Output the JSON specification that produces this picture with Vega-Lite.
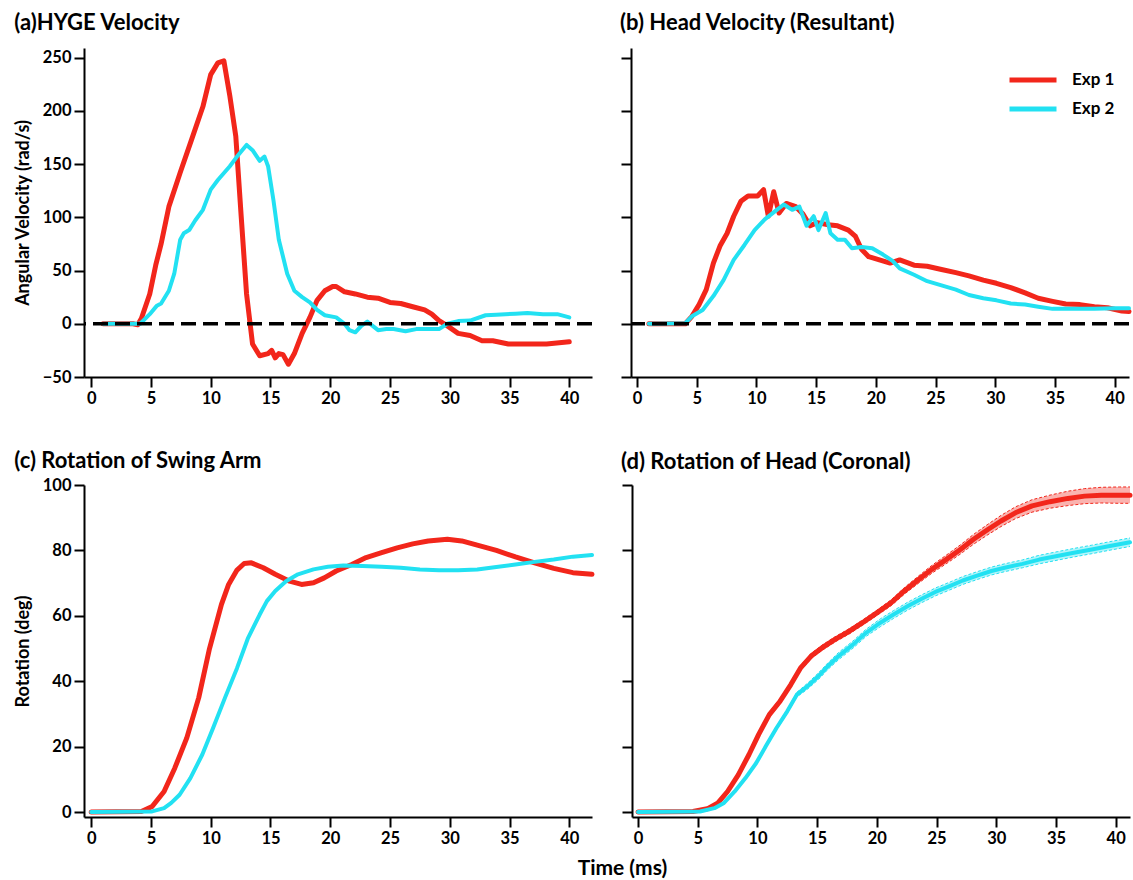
{
  "$schema": "https://vega.github.io/schema/vega-lite/v6.json",
  "padding": {"left": 14, "top": 12, "right": 0, "bottom": 0},
  "background": "white",
  "title": {"text": "Time (ms)", "orient": "bottom", "anchor": "middle", "frame": "bounds", "dx": 49, "offset": 11, "fontSize": 21, "fontWeight": "bold", "font": "Lato", "color": "black"},
  "datasets": {
    "a": [
      {"e": "Exp 1", "t": 1, "v": 0}, {"e": "Exp 1", "t": 3.5, "v": 0}, {"e": "Exp 1", "t": 3.9, "v": -1}, {"e": "Exp 1", "t": 4.2, "v": 5}, {"e": "Exp 1", "t": 4.9, "v": 28}, {"e": "Exp 1", "t": 5.4, "v": 55}, {"e": "Exp 1", "t": 5.85, "v": 75}, {"e": "Exp 1", "t": 6.5, "v": 110}, {"e": "Exp 1", "t": 7.45, "v": 142}, {"e": "Exp 1", "t": 8.4, "v": 173}, {"e": "Exp 1", "t": 9.35, "v": 204}, {"e": "Exp 1", "t": 10.0, "v": 234}, {"e": "Exp 1", "t": 10.6, "v": 245}, {"e": "Exp 1", "t": 11.1, "v": 247}, {"e": "Exp 1", "t": 11.6, "v": 214}, {"e": "Exp 1", "t": 12.1, "v": 176}, {"e": "Exp 1", "t": 12.55, "v": 101}, {"e": "Exp 1", "t": 13.0, "v": 28}, {"e": "Exp 1", "t": 13.5, "v": -19}, {"e": "Exp 1", "t": 14.1, "v": -30}, {"e": "Exp 1", "t": 14.8, "v": -28}, {"e": "Exp 1", "t": 15.1, "v": -25}, {"e": "Exp 1", "t": 15.4, "v": -32}, {"e": "Exp 1", "t": 15.7, "v": -28}, {"e": "Exp 1", "t": 16.05, "v": -29}, {"e": "Exp 1", "t": 16.5, "v": -38}, {"e": "Exp 1", "t": 17.0, "v": -28}, {"e": "Exp 1", "t": 17.65, "v": -9}, {"e": "Exp 1", "t": 18.3, "v": 6}, {"e": "Exp 1", "t": 18.9, "v": 22}, {"e": "Exp 1", "t": 19.55, "v": 31}, {"e": "Exp 1", "t": 20.2, "v": 35}, {"e": "Exp 1", "t": 20.5, "v": 35}, {"e": "Exp 1", "t": 21.2, "v": 30}, {"e": "Exp 1", "t": 22.1, "v": 28}, {"e": "Exp 1", "t": 23.1, "v": 25}, {"e": "Exp 1", "t": 24.0, "v": 24}, {"e": "Exp 1", "t": 25.0, "v": 20}, {"e": "Exp 1", "t": 25.9, "v": 19}, {"e": "Exp 1", "t": 26.9, "v": 16}, {"e": "Exp 1", "t": 27.9, "v": 13}, {"e": "Exp 1", "t": 28.5, "v": 9}, {"e": "Exp 1", "t": 29.1, "v": 3}, {"e": "Exp 1", "t": 29.8, "v": -2}, {"e": "Exp 1", "t": 30.7, "v": -9}, {"e": "Exp 1", "t": 31.7, "v": -11}, {"e": "Exp 1", "t": 32.7, "v": -16}, {"e": "Exp 1", "t": 33.6, "v": -16}, {"e": "Exp 1", "t": 34.9, "v": -19}, {"e": "Exp 1", "t": 36.5, "v": -19}, {"e": "Exp 1", "t": 38.1, "v": -19}, {"e": "Exp 1", "t": 40, "v": -17},
      {"e": "Exp 2", "t": 1, "v": 0}, {"e": "Exp 2", "t": 4.1, "v": 0}, {"e": "Exp 2", "t": 4.9, "v": 9}, {"e": "Exp 2", "t": 5.5, "v": 17}, {"e": "Exp 2", "t": 5.85, "v": 19}, {"e": "Exp 2", "t": 6.5, "v": 31}, {"e": "Exp 2", "t": 6.95, "v": 47}, {"e": "Exp 2", "t": 7.45, "v": 79}, {"e": "Exp 2", "t": 7.75, "v": 85}, {"e": "Exp 2", "t": 8.2, "v": 88}, {"e": "Exp 2", "t": 8.7, "v": 97}, {"e": "Exp 2", "t": 9.35, "v": 107}, {"e": "Exp 2", "t": 10.0, "v": 126}, {"e": "Exp 2", "t": 10.6, "v": 135}, {"e": "Exp 2", "t": 11.6, "v": 148}, {"e": "Exp 2", "t": 12.2, "v": 157}, {"e": "Exp 2", "t": 13.0, "v": 168}, {"e": "Exp 2", "t": 13.5, "v": 163}, {"e": "Exp 2", "t": 14.1, "v": 153}, {"e": "Exp 2", "t": 14.5, "v": 157}, {"e": "Exp 2", "t": 14.8, "v": 148}, {"e": "Exp 2", "t": 15.25, "v": 116}, {"e": "Exp 2", "t": 15.7, "v": 79}, {"e": "Exp 2", "t": 16.4, "v": 47}, {"e": "Exp 2", "t": 17.0, "v": 31}, {"e": "Exp 2", "t": 17.65, "v": 25}, {"e": "Exp 2", "t": 18.3, "v": 20}, {"e": "Exp 2", "t": 18.9, "v": 13}, {"e": "Exp 2", "t": 19.55, "v": 8}, {"e": "Exp 2", "t": 20.5, "v": 6}, {"e": "Exp 2", "t": 21.2, "v": 0}, {"e": "Exp 2", "t": 21.6, "v": -6}, {"e": "Exp 2", "t": 22.1, "v": -8}, {"e": "Exp 2", "t": 22.6, "v": -2}, {"e": "Exp 2", "t": 23.1, "v": 2}, {"e": "Exp 2", "t": 23.55, "v": -2}, {"e": "Exp 2", "t": 24.0, "v": -6}, {"e": "Exp 2", "t": 24.7, "v": -5}, {"e": "Exp 2", "t": 25.3, "v": -5}, {"e": "Exp 2", "t": 26.3, "v": -7}, {"e": "Exp 2", "t": 27.2, "v": -5}, {"e": "Exp 2", "t": 28.2, "v": -5}, {"e": "Exp 2", "t": 29.1, "v": -5}, {"e": "Exp 2", "t": 29.8, "v": 0}, {"e": "Exp 2", "t": 30.7, "v": 2.5}, {"e": "Exp 2", "t": 31.7, "v": 3}, {"e": "Exp 2", "t": 33.0, "v": 8}, {"e": "Exp 2", "t": 33.9, "v": 8.5}, {"e": "Exp 2", "t": 35.5, "v": 9.5}, {"e": "Exp 2", "t": 36.5, "v": 10}, {"e": "Exp 2", "t": 37.8, "v": 9}, {"e": "Exp 2", "t": 39, "v": 9}, {"e": "Exp 2", "t": 40, "v": 6}
    ],
    "b": [
      {"e": "Exp 1", "t": 1, "v": 0}, {"e": "Exp 1", "t": 4.05, "v": 0}, {"e": "Exp 1", "t": 4.6, "v": 7}, {"e": "Exp 1", "t": 5.2, "v": 18}, {"e": "Exp 1", "t": 5.8, "v": 32}, {"e": "Exp 1", "t": 6.4, "v": 57}, {"e": "Exp 1", "t": 6.95, "v": 73}, {"e": "Exp 1", "t": 7.55, "v": 85}, {"e": "Exp 1", "t": 8.1, "v": 101}, {"e": "Exp 1", "t": 8.7, "v": 115}, {"e": "Exp 1", "t": 9.3, "v": 120}, {"e": "Exp 1", "t": 10.1, "v": 120}, {"e": "Exp 1", "t": 10.6, "v": 126}, {"e": "Exp 1", "t": 11.0, "v": 101}, {"e": "Exp 1", "t": 11.45, "v": 124}, {"e": "Exp 1", "t": 11.9, "v": 104}, {"e": "Exp 1", "t": 12.5, "v": 113}, {"e": "Exp 1", "t": 13.3, "v": 110}, {"e": "Exp 1", "t": 13.9, "v": 103}, {"e": "Exp 1", "t": 14.5, "v": 92}, {"e": "Exp 1", "t": 15.1, "v": 95}, {"e": "Exp 1", "t": 16.0, "v": 93}, {"e": "Exp 1", "t": 16.8, "v": 92}, {"e": "Exp 1", "t": 17.7, "v": 88}, {"e": "Exp 1", "t": 18.3, "v": 82}, {"e": "Exp 1", "t": 18.8, "v": 70}, {"e": "Exp 1", "t": 19.4, "v": 63}, {"e": "Exp 1", "t": 20.3, "v": 60}, {"e": "Exp 1", "t": 21.2, "v": 57}, {"e": "Exp 1", "t": 22.0, "v": 60}, {"e": "Exp 1", "t": 23.2, "v": 55}, {"e": "Exp 1", "t": 24.3, "v": 54}, {"e": "Exp 1", "t": 25.5, "v": 51}, {"e": "Exp 1", "t": 26.7, "v": 48}, {"e": "Exp 1", "t": 27.8, "v": 45}, {"e": "Exp 1", "t": 29.0, "v": 41}, {"e": "Exp 1", "t": 30.1, "v": 38}, {"e": "Exp 1", "t": 31.3, "v": 34}, {"e": "Exp 1", "t": 32.5, "v": 29}, {"e": "Exp 1", "t": 33.6, "v": 24}, {"e": "Exp 1", "t": 34.8, "v": 21}, {"e": "Exp 1", "t": 35.9, "v": 18.5}, {"e": "Exp 1", "t": 37.1, "v": 18}, {"e": "Exp 1", "t": 38.3, "v": 16}, {"e": "Exp 1", "t": 39.4, "v": 15}, {"e": "Exp 1", "t": 40.6, "v": 12}, {"e": "Exp 1", "t": 41.2, "v": 11.5},
      {"e": "Exp 2", "t": 1, "v": 0}, {"e": "Exp 2", "t": 4.05, "v": 0.5}, {"e": "Exp 2", "t": 4.6, "v": 7}, {"e": "Exp 2", "t": 5.5, "v": 13}, {"e": "Exp 2", "t": 6.4, "v": 26}, {"e": "Exp 2", "t": 7.25, "v": 41}, {"e": "Exp 2", "t": 8.1, "v": 60}, {"e": "Exp 2", "t": 9.0, "v": 74}, {"e": "Exp 2", "t": 9.85, "v": 88}, {"e": "Exp 2", "t": 10.7, "v": 98}, {"e": "Exp 2", "t": 11.6, "v": 106}, {"e": "Exp 2", "t": 12.3, "v": 112}, {"e": "Exp 2", "t": 13.0, "v": 107}, {"e": "Exp 2", "t": 13.6, "v": 110}, {"e": "Exp 2", "t": 14.2, "v": 92}, {"e": "Exp 2", "t": 14.8, "v": 101}, {"e": "Exp 2", "t": 15.2, "v": 88}, {"e": "Exp 2", "t": 15.8, "v": 104}, {"e": "Exp 2", "t": 16.2, "v": 85}, {"e": "Exp 2", "t": 16.8, "v": 79}, {"e": "Exp 2", "t": 17.4, "v": 79}, {"e": "Exp 2", "t": 18.0, "v": 71}, {"e": "Exp 2", "t": 18.8, "v": 72}, {"e": "Exp 2", "t": 19.7, "v": 71}, {"e": "Exp 2", "t": 20.6, "v": 65}, {"e": "Exp 2", "t": 21.4, "v": 59}, {"e": "Exp 2", "t": 22.0, "v": 52}, {"e": "Exp 2", "t": 23.2, "v": 46}, {"e": "Exp 2", "t": 24.3, "v": 40}, {"e": "Exp 2", "t": 25.5, "v": 36}, {"e": "Exp 2", "t": 26.7, "v": 32}, {"e": "Exp 2", "t": 27.8, "v": 27}, {"e": "Exp 2", "t": 29.0, "v": 24}, {"e": "Exp 2", "t": 30.1, "v": 22}, {"e": "Exp 2", "t": 31.3, "v": 19}, {"e": "Exp 2", "t": 32.5, "v": 18}, {"e": "Exp 2", "t": 33.6, "v": 16}, {"e": "Exp 2", "t": 34.8, "v": 14}, {"e": "Exp 2", "t": 36.5, "v": 14}, {"e": "Exp 2", "t": 38.3, "v": 14}, {"e": "Exp 2", "t": 40, "v": 14.5}, {"e": "Exp 2", "t": 41.2, "v": 14.5}
    ],
    "c": [
      {"e": "Exp 1", "t": 0, "v": 0}, {"e": "Exp 1", "t": 4.2, "v": 0.2}, {"e": "Exp 1", "t": 5.1, "v": 1.7}, {"e": "Exp 1", "t": 6.1, "v": 6.3}, {"e": "Exp 1", "t": 7.0, "v": 13.5}, {"e": "Exp 1", "t": 8.0, "v": 22.7}, {"e": "Exp 1", "t": 9.0, "v": 35}, {"e": "Exp 1", "t": 9.9, "v": 50}, {"e": "Exp 1", "t": 10.9, "v": 63.5}, {"e": "Exp 1", "t": 11.5, "v": 69.6}, {"e": "Exp 1", "t": 12.2, "v": 74}, {"e": "Exp 1", "t": 12.8, "v": 76}, {"e": "Exp 1", "t": 13.4, "v": 76.2}, {"e": "Exp 1", "t": 14.4, "v": 74.7}, {"e": "Exp 1", "t": 15.4, "v": 72.7}, {"e": "Exp 1", "t": 16.6, "v": 70.6}, {"e": "Exp 1", "t": 17.6, "v": 69.6}, {"e": "Exp 1", "t": 18.6, "v": 70.1}, {"e": "Exp 1", "t": 19.5, "v": 71.6}, {"e": "Exp 1", "t": 20.5, "v": 73.7}, {"e": "Exp 1", "t": 21.8, "v": 75.7}, {"e": "Exp 1", "t": 23.0, "v": 77.8}, {"e": "Exp 1", "t": 24.3, "v": 79.3}, {"e": "Exp 1", "t": 25.6, "v": 80.8}, {"e": "Exp 1", "t": 26.9, "v": 82}, {"e": "Exp 1", "t": 28.2, "v": 82.9}, {"e": "Exp 1", "t": 29.8, "v": 83.4}, {"e": "Exp 1", "t": 31.0, "v": 82.9}, {"e": "Exp 1", "t": 32.3, "v": 81.6}, {"e": "Exp 1", "t": 33.9, "v": 80}, {"e": "Exp 1", "t": 35.5, "v": 78}, {"e": "Exp 1", "t": 37.1, "v": 76.2}, {"e": "Exp 1", "t": 38.7, "v": 74.5}, {"e": "Exp 1", "t": 40.3, "v": 73.2}, {"e": "Exp 1", "t": 41.9, "v": 72.7},
      {"e": "Exp 2", "t": 0, "v": 0}, {"e": "Exp 2", "t": 5.1, "v": 0.2}, {"e": "Exp 2", "t": 6.1, "v": 1.2}, {"e": "Exp 2", "t": 6.7, "v": 2.8}, {"e": "Exp 2", "t": 7.4, "v": 5.3}, {"e": "Exp 2", "t": 8.3, "v": 10.4}, {"e": "Exp 2", "t": 9.3, "v": 17.6}, {"e": "Exp 2", "t": 10.2, "v": 25.7}, {"e": "Exp 2", "t": 11.2, "v": 35}, {"e": "Exp 2", "t": 12.2, "v": 44}, {"e": "Exp 2", "t": 13.1, "v": 53}, {"e": "Exp 2", "t": 14.1, "v": 60.4}, {"e": "Exp 2", "t": 14.7, "v": 64.5}, {"e": "Exp 2", "t": 15.4, "v": 67.6}, {"e": "Exp 2", "t": 16.3, "v": 70.6}, {"e": "Exp 2", "t": 17.3, "v": 72.7}, {"e": "Exp 2", "t": 18.6, "v": 74.2}, {"e": "Exp 2", "t": 19.8, "v": 75}, {"e": "Exp 2", "t": 21.1, "v": 75.4}, {"e": "Exp 2", "t": 22.7, "v": 75.2}, {"e": "Exp 2", "t": 24.3, "v": 75}, {"e": "Exp 2", "t": 25.9, "v": 74.7}, {"e": "Exp 2", "t": 27.5, "v": 74.2}, {"e": "Exp 2", "t": 29.1, "v": 73.9}, {"e": "Exp 2", "t": 30.7, "v": 73.9}, {"e": "Exp 2", "t": 32.3, "v": 74.2}, {"e": "Exp 2", "t": 33.9, "v": 74.9}, {"e": "Exp 2", "t": 35.5, "v": 75.7}, {"e": "Exp 2", "t": 37.1, "v": 76.5}, {"e": "Exp 2", "t": 38.7, "v": 77.2}, {"e": "Exp 2", "t": 40.3, "v": 78.1}, {"e": "Exp 2", "t": 41.9, "v": 78.6}
    ],
    "d": [
      {"e": "Exp 1", "t": 0, "v": 0, "lo": -0.3, "hi": 0.3}, {"e": "Exp 1", "t": 4.6, "v": 0.2, "lo": -0.1, "hi": 0.5}, {"e": "Exp 1", "t": 5.8, "v": 1, "lo": 0.7, "hi": 1.3}, {"e": "Exp 1", "t": 6.7, "v": 2.8, "lo": 2.4, "hi": 3.2}, {"e": "Exp 1", "t": 7.5, "v": 6.3, "lo": 5.8, "hi": 6.8}, {"e": "Exp 1", "t": 8.4, "v": 11.4, "lo": 10.8, "hi": 12.0}, {"e": "Exp 1", "t": 9.3, "v": 17.6, "lo": 16.9, "hi": 18.3}, {"e": "Exp 1", "t": 10.1, "v": 23.7, "lo": 22.9, "hi": 24.5}, {"e": "Exp 1", "t": 11.0, "v": 29.8, "lo": 29.0, "hi": 30.6}, {"e": "Exp 1", "t": 11.9, "v": 33.9, "lo": 33.1, "hi": 34.7}, {"e": "Exp 1", "t": 12.8, "v": 39, "lo": 38.2, "hi": 39.8}, {"e": "Exp 1", "t": 13.6, "v": 44, "lo": 43.2, "hi": 44.8}, {"e": "Exp 1", "t": 14.5, "v": 47.7, "lo": 46.9, "hi": 48.5}, {"e": "Exp 1", "t": 15.4, "v": 50.2, "lo": 49.4, "hi": 51.0}, {"e": "Exp 1", "t": 16.5, "v": 52.8, "lo": 52.0, "hi": 53.6}, {"e": "Exp 1", "t": 17.7, "v": 55.3, "lo": 54.5, "hi": 56.1}, {"e": "Exp 1", "t": 18.8, "v": 57.9, "lo": 57.1, "hi": 58.7}, {"e": "Exp 1", "t": 20.0, "v": 60.9, "lo": 60.1, "hi": 61.7}, {"e": "Exp 1", "t": 21.2, "v": 64, "lo": 63.1, "hi": 64.9}, {"e": "Exp 1", "t": 22.3, "v": 67.6, "lo": 66.6, "hi": 68.6}, {"e": "Exp 1", "t": 23.5, "v": 71.1, "lo": 70.0, "hi": 72.2}, {"e": "Exp 1", "t": 24.6, "v": 74.2, "lo": 73.0, "hi": 75.4}, {"e": "Exp 1", "t": 25.8, "v": 77.2, "lo": 75.9, "hi": 78.5}, {"e": "Exp 1", "t": 27.0, "v": 80.3, "lo": 78.9, "hi": 81.7}, {"e": "Exp 1", "t": 28.1, "v": 83.4, "lo": 81.9, "hi": 84.9}, {"e": "Exp 1", "t": 29.3, "v": 86.4, "lo": 84.8, "hi": 88.0}, {"e": "Exp 1", "t": 30.4, "v": 89, "lo": 87.3, "hi": 90.7}, {"e": "Exp 1", "t": 31.6, "v": 91.5, "lo": 89.7, "hi": 93.3}, {"e": "Exp 1", "t": 33.0, "v": 93.6, "lo": 91.7, "hi": 95.5}, {"e": "Exp 1", "t": 34.5, "v": 94.9, "lo": 92.9, "hi": 96.9}, {"e": "Exp 1", "t": 36.0, "v": 95.9, "lo": 93.7, "hi": 98.1}, {"e": "Exp 1", "t": 37.4, "v": 96.6, "lo": 94.3, "hi": 98.9}, {"e": "Exp 1", "t": 38.8, "v": 96.9, "lo": 94.5, "hi": 99.3}, {"e": "Exp 1", "t": 40.3, "v": 96.9, "lo": 94.4, "hi": 99.4}, {"e": "Exp 1", "t": 41.2, "v": 96.9, "lo": 94.4, "hi": 99.4},
      {"e": "Exp 2", "t": 0, "v": 0, "lo": -0.2, "hi": 0.2}, {"e": "Exp 2", "t": 5.2, "v": 0.2, "lo": 0.0, "hi": 0.4}, {"e": "Exp 2", "t": 6.4, "v": 1.2, "lo": 0.9, "hi": 1.5}, {"e": "Exp 2", "t": 7.2, "v": 2.8, "lo": 2.5, "hi": 3.1}, {"e": "Exp 2", "t": 8.1, "v": 6.3, "lo": 5.9, "hi": 6.7}, {"e": "Exp 2", "t": 9.0, "v": 10.4, "lo": 10.0, "hi": 10.8}, {"e": "Exp 2", "t": 9.9, "v": 15, "lo": 14.5, "hi": 15.5}, {"e": "Exp 2", "t": 10.7, "v": 20.1, "lo": 19.6, "hi": 20.6}, {"e": "Exp 2", "t": 11.6, "v": 25.7, "lo": 25.1, "hi": 26.3}, {"e": "Exp 2", "t": 12.5, "v": 30.8, "lo": 30.2, "hi": 31.4}, {"e": "Exp 2", "t": 13.3, "v": 35.9, "lo": 35.2, "hi": 36.6}, {"e": "Exp 2", "t": 14.2, "v": 38.5, "lo": 37.6, "hi": 39.4}, {"e": "Exp 2", "t": 15.1, "v": 41.5, "lo": 40.5, "hi": 42.5}, {"e": "Exp 2", "t": 15.9, "v": 44.6, "lo": 43.6, "hi": 45.6}, {"e": "Exp 2", "t": 16.8, "v": 47.7, "lo": 46.6, "hi": 48.8}, {"e": "Exp 2", "t": 18.0, "v": 51.2, "lo": 50.1, "hi": 52.3}, {"e": "Exp 2", "t": 19.1, "v": 54.8, "lo": 53.7, "hi": 55.9}, {"e": "Exp 2", "t": 20.3, "v": 57.9, "lo": 56.7, "hi": 59.1}, {"e": "Exp 2", "t": 21.4, "v": 60.4, "lo": 59.2, "hi": 61.6}, {"e": "Exp 2", "t": 22.6, "v": 63, "lo": 61.8, "hi": 64.2}, {"e": "Exp 2", "t": 23.8, "v": 65.3, "lo": 64.1, "hi": 66.5}, {"e": "Exp 2", "t": 24.9, "v": 67.3, "lo": 66.1, "hi": 68.5}, {"e": "Exp 2", "t": 26.1, "v": 69.1, "lo": 67.9, "hi": 70.3}, {"e": "Exp 2", "t": 27.2, "v": 70.8, "lo": 69.6, "hi": 72.0}, {"e": "Exp 2", "t": 28.4, "v": 72.3, "lo": 71.1, "hi": 73.5}, {"e": "Exp 2", "t": 29.6, "v": 73.7, "lo": 72.5, "hi": 74.9}, {"e": "Exp 2", "t": 30.7, "v": 74.7, "lo": 73.5, "hi": 75.9}, {"e": "Exp 2", "t": 32.2, "v": 75.9, "lo": 74.7, "hi": 77.1}, {"e": "Exp 2", "t": 33.6, "v": 77.2, "lo": 75.9, "hi": 78.5}, {"e": "Exp 2", "t": 35.1, "v": 78.3, "lo": 77.0, "hi": 79.6}, {"e": "Exp 2", "t": 36.5, "v": 79.3, "lo": 78.0, "hi": 80.6}, {"e": "Exp 2", "t": 38.0, "v": 80.3, "lo": 79.0, "hi": 81.6}, {"e": "Exp 2", "t": 39.4, "v": 81.3, "lo": 80.0, "hi": 82.6}, {"e": "Exp 2", "t": 41.2, "v": 82.5, "lo": 81.2, "hi": 83.8}
    ]
  },
  "resolve": {"legend": {"color": "independent"}, "scale": {"color": "independent"}},
  "spacing": 43,
  "vconcat": [
    {
      "spacing": 26,
      "resolve": {"legend": {"color": "independent"}, "scale": {"color": "independent"}},
      "hconcat": [
        {
          "title": {"text": "(a)HYGE Velocity"},
          "width": 508, "height": 329,
          "data": {"name": "a"},
          "layer": [
            {
              "mark": {"type": "line", "strokeCap": "round", "strokeJoin": "round"},
              "encoding": {
                "x": {"field": "t", "type": "quantitative", "scale": {"domain": [-0.6, 41.9], "nice": false, "zero": false}, "axis": {"values": [0, 5, 10, 15, 20, 25, 30, 35, 40], "title": null}},
                "y": {"field": "v", "type": "quantitative", "scale": {"domain": [-50, 259], "nice": false}, "axis": {"values": [-50, 0, 50, 100, 150, 200, 250], "title": "Angular Velocity (rad/s)"}},
                "color": {"field": "e", "type": "nominal", "scale": {"domain": ["Exp 1", "Exp 2"], "range": ["#F2261B", "#22E1F2"]}, "legend": null},
                "strokeWidth": {"field": "e", "type": "nominal", "scale": {"domain": ["Exp 1", "Exp 2"], "range": [5, 4]}, "legend": null}
              }
            },
            {
              "data": {"values": [{}]},
              "mark": {"type": "rule", "color": "black", "strokeWidth": 3.5, "strokeDash": [15, 7]},
              "encoding": {"y": {"datum": 0}}
            }
          ]
        },
        {
          "title": {"text": "(b) Head Velocity (Resultant)"},
          "width": 498, "height": 329,
          "data": {"name": "b"},
          "layer": [
            {
              "mark": {"type": "line", "strokeCap": "round", "strokeJoin": "round"},
              "encoding": {
                "x": {"field": "t", "type": "quantitative", "scale": {"domain": [-0.5, 41.2], "nice": false, "zero": false}, "axis": {"values": [0, 5, 10, 15, 20, 25, 30, 35, 40], "title": null}},
                "y": {"field": "v", "type": "quantitative", "scale": {"domain": [-50, 259], "nice": false}, "axis": {"values": [-50, 0, 50, 100, 150, 200, 250], "title": null, "labels": false}},
                "color": {"field": "e", "type": "nominal", "scale": {"domain": ["Exp 1", "Exp 2"], "range": ["#F2261B", "#22E1F2"]},
                  "legend": {"orient": "none", "legendX": 376, "legendY": 22, "title": null, "symbolType": "stroke", "symbolSize": 2209, "symbolStrokeWidth": 5, "clipHeight": 20, "rowPadding": 9, "labelFontSize": 17, "labelFont": "Lato", "labelFontWeight": "bold", "labelColor": "black", "labelOffset": 13, "padding": 0}},
                "strokeWidth": {"field": "e", "type": "nominal", "scale": {"domain": ["Exp 1", "Exp 2"], "range": [5, 4]}, "legend": null}
              }
            },
            {
              "data": {"values": [{}]},
              "mark": {"type": "rule", "color": "black", "strokeWidth": 3.5, "strokeDash": [15, 7]},
              "encoding": {"y": {"datum": 0}}
            }
          ]
        }
      ]
    },
    {
      "spacing": 26,
      "resolve": {"legend": {"color": "independent"}, "scale": {"color": "independent"}},
      "hconcat": [
        {
          "title": {"text": "(c) Rotation of Swing Arm", "dy": 9},
          "width": 508, "height": 332,
          "data": {"name": "c"},
          "mark": {"type": "line", "strokeCap": "round", "strokeJoin": "round"},
          "encoding": {
            "x": {"field": "t", "type": "quantitative", "scale": {"domain": [-0.6, 41.9], "nice": false, "zero": false}, "axis": {"values": [0, 5, 10, 15, 20, 25, 30, 35, 40], "title": null}},
            "y": {"field": "v", "type": "quantitative", "scale": {"domain": [-1.5, 100], "nice": false}, "axis": {"values": [0, 20, 40, 60, 80, 100], "title": "Rotation (deg)"}},
            "color": {"field": "e", "type": "nominal", "scale": {"domain": ["Exp 1", "Exp 2"], "range": ["#F2261B", "#22E1F2"]}, "legend": null},
            "strokeWidth": {"field": "e", "type": "nominal", "scale": {"domain": ["Exp 1", "Exp 2"], "range": [5, 4]}, "legend": null}
          }
        },
        {
          "title": {"text": "(d) Rotation of Head (Coronal)", "dy": 3},
          "width": 498, "height": 332,
          "data": {"name": "d"},
          "encoding": {
            "x": {"field": "t", "type": "quantitative", "scale": {"domain": [-0.5, 41.2], "nice": false, "zero": false}, "axis": {"values": [0, 5, 10, 15, 20, 25, 30, 35, 40], "title": null}},
            "color": {"field": "e", "type": "nominal", "scale": {"domain": ["Exp 1", "Exp 2"], "range": ["#F2261B", "#22E1F2"]}, "legend": null}
          },
          "layer": [
            {
              "mark": {"type": "area", "opacity": 0.35},
              "encoding": {
                "y": {"field": "lo", "type": "quantitative", "scale": {"domain": [-1.5, 100], "nice": false}, "axis": {"values": [0, 20, 40, 60, 80, 100], "title": null, "labels": false}},
                "y2": {"field": "hi"}
              }
            },
            {
              "mark": {"type": "line", "strokeWidth": 1, "strokeDash": [3, 2]},
              "encoding": {"y": {"field": "lo", "type": "quantitative"}}
            },
            {
              "mark": {"type": "line", "strokeWidth": 1, "strokeDash": [3, 2]},
              "encoding": {"y": {"field": "hi", "type": "quantitative"}}
            },
            {
              "mark": {"type": "line", "strokeCap": "round", "strokeJoin": "round"},
              "encoding": {
                "y": {"field": "v", "type": "quantitative"},
                "strokeWidth": {"field": "e", "type": "nominal", "scale": {"domain": ["Exp 1", "Exp 2"], "range": [4.5, 4]}, "legend": null}
              }
            }
          ]
        }
      ]
    }
  ],
  "config": {
    "font": "Lato",
    "view": {"stroke": null},
    "axis": {
      "grid": false,
      "domainColor": "black", "domainWidth": 2,
      "tickColor": "black", "tickWidth": 2, "tickSize": 10,
      "labelFont": "Lato", "labelFontWeight": "bold", "labelFontSize": 16.5, "labelColor": "black", "labelPadding": 3, "labelFlush": false,
      "titleFont": "Lato", "titleFontWeight": "bold", "titleFontSize": 18, "titleColor": "black", "titlePadding": 10
    },
    "title": {"anchor": "start", "frame": "bounds", "fontSize": 22, "fontWeight": "bold", "font": "Lato", "color": "black", "offset": 13}
  }
}
